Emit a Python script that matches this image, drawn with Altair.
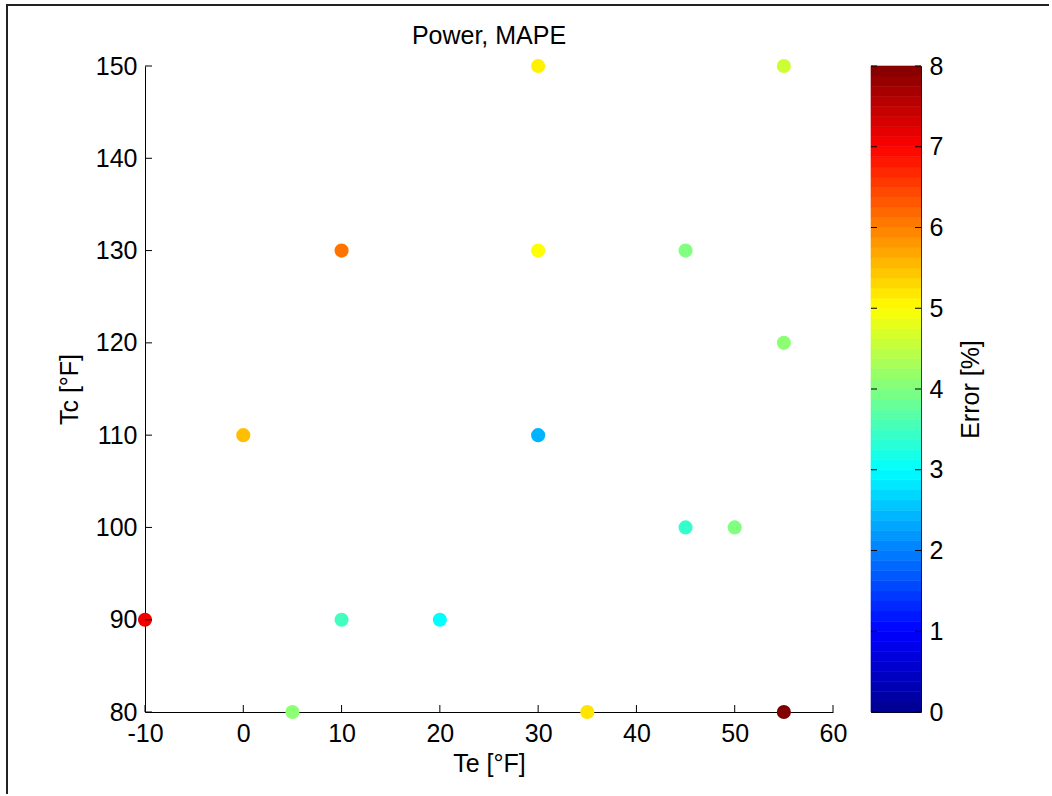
import altair as alt
import pandas as pd
import numpy as np

# ---- data ----
TE = [-10, 0, 5, 10, 10, 20, 30, 30, 30, 35, 45, 45, 50, 55, 55, 55]
TC = [90, 110, 80, 130, 90, 90, 150, 130, 110, 80, 130, 100, 100, 150, 120, 80]
ERR = [7.1, 5.5, 4.1, 6.1, 3.5, 3.0, 5.1, 5.0, 2.4, 5.2, 4.0, 3.4, 4.0, 4.6, 4.1, 8.0]

X_TICKS = [-10, 0, 10, 20, 30, 40, 50, 60]
Y_TICKS = [80, 90, 100, 110, 120, 130, 140, 150]
C_TICKS = [0, 1, 2, 3, 4, 5, 6, 7, 8]

TITLE = "Power, MAPE"
X_TITLE = "Te [°F]"
Y_TITLE = "Tc [°F]"
C_TITLE = "Error [%]"

# ---- styling ----
FONT = "Liberation Sans"
W, H = 688, 646
CB_W = 50
LBL = 25
TTL = 25

jet = alt.Scale(
    domain=[0, 1, 3, 5, 7, 8],
    range=["#000090", "#0000ff", "#00ffff", "#ffff00", "#ff0000", "#800000"],
    interpolate="rgb",
)

xs = alt.Scale(domain=[-10, 60], nice=False, zero=False)
ys = alt.Scale(domain=[80, 150], nice=False, zero=False)
cs = alt.Scale(domain=[0, 8], nice=False, zero=False)

x_axis = alt.Axis(values=X_TICKS, ticks=False, grid=False, labelPadding=9,
                  labelFlush=False, labelOverlap=False, labelExpr="'' + datum.value",
                  title=X_TITLE, titleBaseline="alphabetic", titleY=59, titleX=W / 2)
y_axis = alt.Axis(values=Y_TICKS, ticks=False, grid=False, labelPadding=8,
                  labelFlush=False, labelOverlap=False, title=Y_TITLE,
                  titleBaseline="alphabetic", titleX=-68, titleAngle=270)
c_axis = alt.Axis(orient="right", values=C_TICKS, ticks=False, domain=False,
                  grid=False, labelPadding=8, labelFlush=False, labelOverlap=False,
                  title=C_TITLE, titleAngle=270, titleBaseline="alphabetic", titleX=57)

pts = pd.DataFrame({"Te": TE, "Tc": TC, "Err": ERR})
points = alt.Chart(pts).mark_circle(size=200, opacity=1).encode(
    x=alt.X("Te:Q", scale=xs, axis=x_axis),
    y=alt.Y("Tc:Q", scale=ys, axis=y_axis),
    color=alt.Color("Err:Q", scale=jet, legend=None),
)

xt = pd.DataFrame({"Te": X_TICKS})
yt = pd.DataFrame({"Tc": Y_TICKS})
xtick = alt.Chart(xt).mark_rule(color="black", strokeWidth=1).encode(
    x=alt.X("Te:Q", scale=xs, axis=x_axis), y=alt.value(H), y2=alt.value(H - 7))
ytick = alt.Chart(yt).mark_rule(color="black", strokeWidth=1).encode(
    y=alt.Y("Tc:Q", scale=ys, axis=y_axis), x=alt.value(0), x2=alt.value(7))

scatter = alt.layer(points, xtick, ytick).properties(
    width=W, height=H,
    title=alt.TitleParams(TITLE, fontSize=TTL, font=FONT, fontWeight="normal",
                          anchor="middle", baseline="alphabetic",
                          offset=7, dy=22, color="black"),
)

# ---- colorbar (64-level jet guide) ----
edges = np.arange(65) * 8 / 64
cb = pd.DataFrame({"lo": edges[:-1], "hi": edges[1:], "mid": (edges[:-1] + edges[1:]) / 2})
bands = alt.Chart(cb).mark_rect(strokeWidth=0.6).encode(
    y=alt.Y("lo:Q", scale=cs, axis=c_axis),
    y2="hi:Q",
    x=alt.value(0), x2=alt.value(CB_W),
    color=alt.Color("mid:Q", scale=jet, legend=None),
    stroke=alt.Stroke("mid:Q", scale=jet, legend=None),
)
ct = pd.DataFrame({"lo": C_TICKS})
ctick_l = alt.Chart(ct).mark_rule(color="black", strokeWidth=1).encode(
    y=alt.Y("lo:Q", scale=cs, axis=c_axis), x=alt.value(0), x2=alt.value(6))
ctick_r = alt.Chart(ct).mark_rule(color="black", strokeWidth=1).encode(
    y=alt.Y("lo:Q", scale=cs, axis=c_axis), x=alt.value(CB_W - 6), x2=alt.value(CB_W))

# figure frame (top and left edges of the exported figure), relative to colorbar origin
frame_l = alt.Chart(pd.DataFrame({"k": [0]})).mark_rule(color="#222", strokeWidth=2).encode(
    x=alt.value(-864), y=alt.value(-61), y2=alt.value(728))
frame_t = alt.Chart(pd.DataFrame({"k": [0]})).mark_rule(color="#222", strokeWidth=2).encode(
    y=alt.value(-61), x=alt.value(-865), x2=alt.value(178))

colorbar = alt.layer(bands, ctick_l, ctick_r, frame_l, frame_t).properties(
    width=CB_W, height=H,
    view=alt.ViewBackground(stroke="black", strokeWidth=1),
)

chart = alt.hconcat(scatter, colorbar, spacing=38, bounds="flush").properties(
    padding={"left": 4, "top": 3, "right": 0, "bottom": 0},
    background="white",
).configure_view(strokeWidth=0).configure_axis(
    labelFont=FONT, titleFont=FONT, labelFontSize=LBL, titleFontSize=TTL,
    labelColor="black", titleColor="black", titleFontWeight="normal",
    domainColor="black", domainWidth=1,
)

chart.save("out.html", embed_options={"renderer": "svg", "actions": False})
